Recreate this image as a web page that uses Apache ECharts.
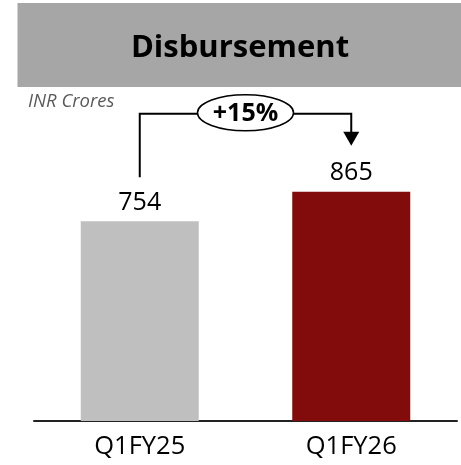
<!DOCTYPE html>
<html>
<head>
<meta charset="utf-8">
<script src="https://cdn.jsdelivr.net/npm/echarts@6/dist/echarts.min.js"></script>
<style>
  html, body { margin: 0; padding: 0; background: #fff; }
  #chart { width: 461px; height: 465px; }
</style>
</head>
<body>
<div id="chart"></div>
<script>
const categories = ['Q1FY25', 'Q1FY26']
const disbursement = [754, 865]
const barColors = ['#BFBFBF', '#820C0C']
const yMax = 1000

const FONT = '"Open Sans", "Liberation Sans", sans-serif'

const chart = echarts.init(document.getElementById('chart'))

// growth in % between the two quarters
const growth = Math.round((disbursement[1] / disbursement[0] - 1) * 100)

// bracket + ellipse + arrow, placed from the bar values
function renderBracket(params, api) {
  const a = api.coord([api.value(0), api.value(1)])
  const b = api.coord([api.value(2), api.value(3)])
  const yTop = Math.min(a[1], b[1]) - 78
  const leftEnd = a[1] - 44
  const tip = b[1] - 46
  const cx = (a[0] + b[0]) / 2
  const rx = 48
  const ry = 18
  const line = { stroke: '#000', lineWidth: 2, fill: null }
  return {
    type: 'group',
    children: [
      { type: 'polyline', shape: { points: [[a[0], leftEnd], [a[0], yTop], [cx - rx, yTop]] }, style: line },
      { type: 'polyline', shape: { points: [[cx + rx, yTop], [b[0], yTop], [b[0], tip - 13]] }, style: line },
      { type: 'polygon', shape: { points: [[b[0] - 8, tip - 14], [b[0] + 8, tip - 14], [b[0], tip]] }, style: { fill: '#000' } },
      { type: 'ellipse', shape: { cx: cx, cy: yTop - 1, rx: rx, ry: ry }, style: { fill: '#fff', stroke: '#000', lineWidth: 1.5 } },
      {
        type: 'text',
        style: {
          text: '+' + growth + '%',
          x: cx,
          y: yTop,
          align: 'center',
          verticalAlign: 'middle',
          fontSize: 25,
          fontWeight: 'bold',
          fontFamily: FONT,
          fill: '#000'
        }
      }
    ]
  }
}

const option = {
  animation: false,
  backgroundColor: '#fff',
  graphic: [
    { type: 'rect', shape: { x: 17.5, y: 3, width: 444, height: 84 }, style: { fill: '#A6A6A6' }, silent: true }
  ],
  title: [
    {
      text: 'Disbursement',
      left: 240,
      top: 33,
      textAlign: 'center',
      padding: 0,
      textStyle: { fontFamily: FONT, fontSize: 31, fontWeight: 'bold', color: '#000' }
    },
    {
      text: 'INR Crores',
      left: 28,
      top: 92,
      padding: 0,
      textStyle: { fontFamily: FONT, fontSize: 18.5, fontStyle: 'italic', fontWeight: 'normal', color: '#595959' }
    }
  ],
  grid: { left: 34, right: 4, top: 156, bottom: 44 },
  xAxis: {
    type: 'category',
    data: categories,
    axisLine: { lineStyle: { color: '#222', width: 2 } },
    axisTick: { show: false },
    axisLabel: { color: '#000', fontFamily: FONT, fontSize: 25.5, margin: 13 }
  },
  yAxis: {
    type: 'value',
    min: 0,
    max: yMax,
    show: false,
    splitLine: { show: false }
  },
  series: [
    {
      type: 'bar',
      barWidth: 118,
      data: disbursement.map((v, i) => ({ value: v, itemStyle: { color: barColors[i] } })),
      label: {
        show: true,
        position: 'top',
        distance: 6,
        color: '#000',
        fontFamily: FONT,
        fontSize: 25
      }
    },
    {
      type: 'custom',
      clip: false,
      silent: true,
      renderItem: renderBracket,
      encode: { x: [0, 2], y: [1, 3] },
      data: [[0, disbursement[0], 1, disbursement[1]]]
    }
  ]
}

chart.setOption(option)
window.addEventListener('resize', () => chart.resize())
</script>
</body>
</html>
